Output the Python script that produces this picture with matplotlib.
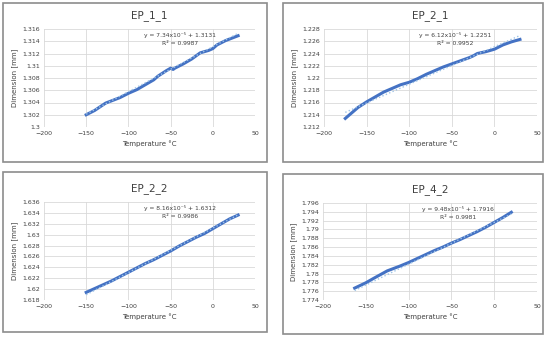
import numpy as np
import matplotlib.pyplot as plt
from matplotlib.patches import Rectangle
from matplotlib.ticker import FuncFormatter, MultipleLocator

# EP_1_1
t11 = [-150, -140, -127, -110, -100, -90, -80, -70, -65, -55, -50, -47, -45, -35, -25, -15, -5, 0, 5, 15, 30]
d11 = [1.3020, 1.3027, 1.3039, 1.3048, 1.3055, 1.3061, 1.3069, 1.3077, 1.3083, 1.3092, 1.3096, 1.3094,
       1.3096, 1.3103, 1.3111, 1.3121, 1.3125, 1.3128, 1.3134, 1.3141, 1.3149]
# EP_2_1
t21 = [-175, -165, -160, -150, -140, -130, -120, -110, -100, -90, -80, -70, -60, -50, -40, -30, -25, -20,
       -10, 0, 10, 20, 30]
d21 = [1.2134, 1.2146, 1.2152, 1.2161, 1.2169, 1.2177, 1.2183, 1.2189, 1.2193, 1.2199, 1.2206, 1.2212,
       1.2218, 1.2223, 1.2228, 1.2233, 1.2236, 1.2240, 1.2243, 1.2247, 1.2254, 1.2259, 1.2263]
# EP_2_2
t22 = [-150, -140, -130, -120, -110, -100, -90, -80, -70, -60, -50, -40, -30, -20, -10, 0, 10, 20, 30]
d22 = [1.6194, 1.6201, 1.6208, 1.6215, 1.6223, 1.6231, 1.6239, 1.6247, 1.6254, 1.6262, 1.6270, 1.6279,
       1.6287, 1.6295, 1.6302, 1.6311, 1.6320, 1.6329, 1.6336]
# EP_4_2
t42 = [-163, -150, -140, -125, -110, -100, -90, -80, -70, -60, -50, -40, -30, -20, -10, 0, 10, 20]
d42 = [1.7767, 1.7779, 1.7790, 1.7806, 1.7817, 1.7825, 1.7834, 1.7843, 1.7852, 1.7860, 1.7869, 1.7877,
       1.7886, 1.7895, 1.7905, 1.7916, 1.7927, 1.7939]

titles = ['EP_1_1', 'EP_2_1', 'EP_2_2', 'EP_4_2']
slopes = [7.34e-5, 6.12e-5, 8.16e-5, 9.48e-5]
intercepts = [1.3131, 1.2251, 1.6312, 1.7916]
eq_text = ['y = 7.34x10⁻⁵ + 1.3131', 'y = 6.12x10⁻⁵ + 1.2251',
           'y = 8.16x10⁻⁵ + 1.6312', 'y = 9.48x10⁻⁵ + 1.7916']
r2_text = ['R² = 0.9987', 'R² = 0.9952', 'R² = 0.9986', 'R² = 0.9981']
ylims = [(1.300, 1.316), (1.212, 1.228), (1.618, 1.636), (1.774, 1.796)]
temps = [t11, t21, t22, t42]
dims = [d11, d21, d22, d42]

W, H = 550, 338
fig = plt.figure(figsize=(5.5, 3.38), dpi=100)

# pixel boxes: border (x0, y0, x1, y1), plot area (x0, y0, x1, y1)
borders = [(3, 3, 267, 162), (283, 3, 543, 162), (3, 172, 267, 332), (283, 174, 543, 334)]
plots = [(44, 29, 255, 127), (324, 29, 537, 127), (44, 202, 255, 300), (323, 203, 537, 300)]
eq_x = [0.645, 0.615, 0.645, 0.63]

line_c = '#4472C4'
grid_c = '#D9D9D9'
txt_c = '#404040'

for i in range(4):
    bx0, by0, bx1, by1 = borders[i]
    fig.patches.append(Rectangle((bx0 / W, 1 - by1 / H), (bx1 - bx0) / W, (by1 - by0) / H,
                                 transform=fig.transFigure, fill=False, edgecolor='#8C8C8C', lw=1.2))
    px0, py0, px1, py1 = plots[i]
    ax = fig.add_axes([px0 / W, 1 - py1 / H, (px1 - px0) / W, (py1 - py0) / H])
    x = np.array(temps[i])
    y = np.array(dims[i])
    ax.plot(x, y, color=line_c, lw=2.2, zorder=3)
    xt = np.array([x[0], x[-1]])
    ax.plot(xt, slopes[i] * xt + intercepts[i], color='#9DC3E6', lw=1.0, ls=':', zorder=4)
    ax.set_xlim(-200, 50)
    ax.set_ylim(*ylims[i])
    ax.xaxis.set_major_locator(MultipleLocator(50))
    ax.yaxis.set_major_locator(MultipleLocator(0.002))
    ax.yaxis.set_major_formatter(FuncFormatter(lambda v, p: '{:g}'.format(round(v, 4))))
    ax.grid(True, color=grid_c, lw=0.6)
    ax.set_axisbelow(True)
    for s in ax.spines.values():
        s.set_visible(False)
    ax.tick_params(length=0, labelsize=4.5, labelcolor=txt_c, pad=3)
    ax.set_xlabel('Temperature °C', fontsize=5, color=txt_c, labelpad=3)
    ax.set_ylabel('Dimension [mm]', fontsize=5, color=txt_c, labelpad=3)
    ax.set_title(titles[i], fontsize=7.5, color=txt_c, pad=8)
    ax.text(eq_x[i], 0.94, eq_text[i], transform=ax.transAxes, fontsize=4.3, color=txt_c, ha='center', va='center')
    ax.text(eq_x[i], 0.855, r2_text[i], transform=ax.transAxes, fontsize=4.3, color=txt_c, ha='center', va='center')

fig.savefig('out.png', dpi=100)
